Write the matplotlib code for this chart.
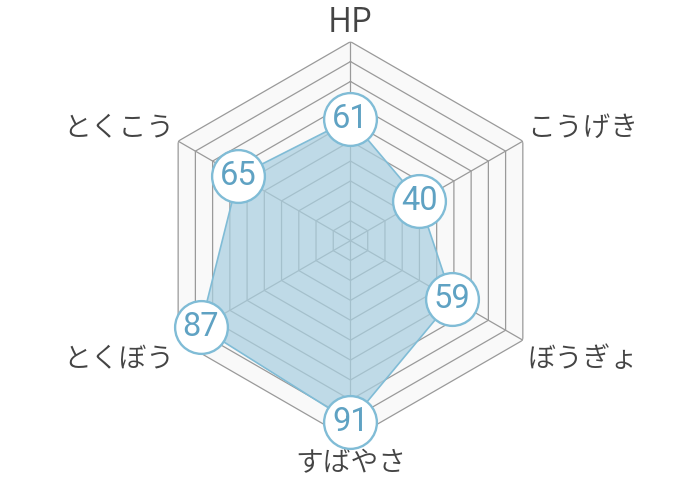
import numpy as np
import matplotlib
matplotlib.use("Agg")
import matplotlib.pyplot as plt

plt.rcParams['font.family'] = ['Noto Sans CJK JP', 'DejaVu Sans']

categories = ["HP", "こうげき", "ぼうぎょ", "すばやさ", "とくぼう", "とくこう"]
values = [61, 40, 59, 91, 87, 65]
r_max = 100
ring_levels = [10, 20, 30, 40, 50, 60, 70, 80, 90, 100]

fig = plt.figure(figsize=(7, 4.8), dpi=100)
ax = fig.add_axes([0.2164, 0.0840, 0.5686, 0.8292], projection='polar')
ax.set_theta_zero_location('N')
ax.set_theta_direction(-1)
ax.set_ylim(0, r_max)
ax.grid(False)
ax.set_xticks([])
ax.set_yticks([])
ax.spines['polar'].set_visible(False)
ax.patch.set_alpha(0)

n = len(categories)
angles = np.arange(n) * 2 * np.pi / n
closed = np.append(angles, angles[0])

# background band fill
ax.fill(closed, [r_max] * (n + 1), color='#f9f9f9', zorder=0, lw=0)
# rings
for lv in ring_levels:
    ax.plot(closed, [lv] * (n + 1), color='#9a9a9a', lw=0.9, zorder=1)
# spokes
for a in angles:
    ax.plot([a, a], [0, r_max], color='#9a9a9a', lw=0.9, zorder=1)

vals_closed = values + [values[0]]
ax.fill(closed, vals_closed, color='#a9cfe0', alpha=0.72, zorder=2, lw=0)
ax.plot(closed, vals_closed, color='#80bcd6', lw=1.2, zorder=3)

ax.plot(angles, values, 'o', ms=38, mfc='white', mec='#80bcd6', mew=1.7,
        zorder=4, clip_on=False)
for a, v in zip(angles, values):
    ax.text(a, v, str(v), ha='center', va='center', fontsize=23.5,
            family=['Roboto', 'DejaVu Sans'],
            fontweight='normal', color='#5fa2c3', zorder=5)

label_style = [
    ('center', 'baseline', (0, 7), 24),
    ('left', 'baseline', (3, 4), 20),
    ('left', 'top', (3, -3), 20),
    ('center', 'top', (0, -6), 20),
    ('right', 'top', (-3, -3), 20),
    ('right', 'baseline', (-3, 4), 20),
]
for a, lab, (ha, va, off, fs) in zip(angles, categories, label_style):
    ax.annotate(lab, xy=(a, r_max), xytext=off, textcoords='offset points',
                ha=ha, va=va, fontsize=fs, fontweight=350, color='#444444',
                annotation_clip=False)

fig.savefig('out.png', dpi=100)
